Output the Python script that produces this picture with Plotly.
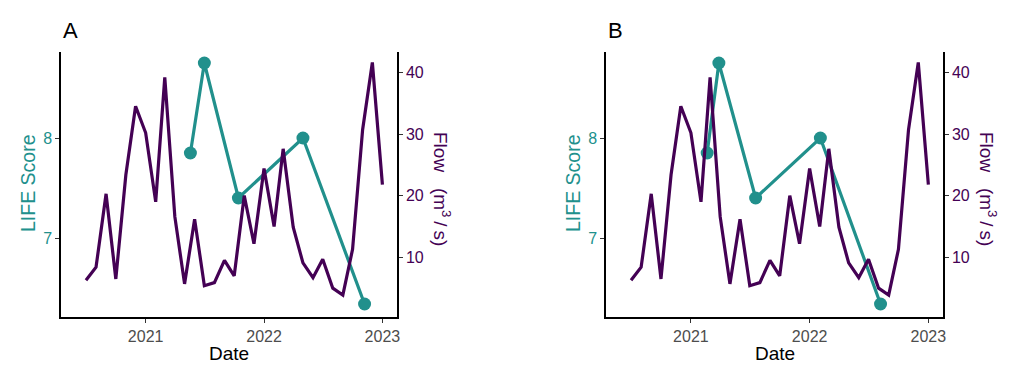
import plotly.graph_objects as go

# ---------------- data ----------------
flow_dates = [
    "2020-07-01", "2020-08-01", "2020-09-01", "2020-10-01", "2020-11-01", "2020-12-01",
    "2021-01-01", "2021-02-01", "2021-03-01", "2021-04-01", "2021-05-01", "2021-06-01",
    "2021-07-01", "2021-08-01", "2021-09-01", "2021-10-01", "2021-11-01", "2021-12-01",
    "2022-01-01", "2022-02-01", "2022-03-01", "2022-04-01", "2022-05-01", "2022-06-01",
    "2022-07-01", "2022-08-01", "2022-09-01", "2022-10-01", "2022-11-01", "2022-12-01",
    "2023-01-01",
]
flow_values = [
    6.3, 8.4, 20.3, 6.5, 23.4, 34.5,
    30.2, 19.0, 39.2, 16.6, 5.7, 16.2,
    5.4, 5.9, 9.5, 7.0, 20.0, 12.2,
    24.4, 15.0, 27.6, 14.9, 9.1, 6.7,
    9.7, 5.0, 3.9, 11.3, 30.7, 41.6,
    21.8,
]

life_dates_a = ["2021-05-19", "2021-07-01", "2021-10-14", "2022-05-01", "2022-11-07"]
life_dates_b = ["2021-02-20", "2021-03-28", "2021-07-19", "2022-02-03", "2022-08-07"]
life_values = [7.85, 8.75, 7.40, 8.00, 6.34]

panel_labels = ["A", "B"]
year_ticks = ["2021-01-01", "2022-01-01", "2023-01-01"]
year_labels = ["2021", "2022", "2023"]
life_ticks = [7, 8]
flow_ticks = [10, 20, 30, 40]

# ---------------- style ----------------
TEAL = "#21908C"
PURPLE = "#440154"
FONT = "Liberation Sans, Arial, sans-serif"
OFF = 8  # page body margin
W, H = 1024 - OFF, 384 - OFF

x_range = ["2020-04-15", "2023-02-15"]
life_range = [6.21, 8.86]
flow_range = [0.33, 43.3]

# plot areas in reference-page pixels
px_a = (61, 397)
px_b = (606, 943)
py = (52, 317)  # top, bottom


def fx(p):
    return (p - OFF) / W


def fy(p):
    return 1 - (p - OFF) / H


fig = go.Figure()

panels = [
    (life_dates_a, px_a, "x", "y", "y2", "xaxis", "yaxis", "yaxis2"),
    (life_dates_b, px_b, "x2", "y3", "y4", "xaxis2", "yaxis3", "yaxis4"),
]

for i, (ldates, pxr, xa, ya, ya2, xk, yk, yk2) in enumerate(panels):
    fig.add_trace(go.Scatter(
        x=ldates, y=life_values, mode="lines+markers",
        line=dict(color=TEAL, width=3.2),
        marker=dict(color=TEAL, size=13),
        xaxis=xa, yaxis=ya, showlegend=False,
    ))
    fig.add_trace(go.Scatter(
        x=flow_dates, y=flow_values, mode="lines",
        line=dict(color=PURPLE, width=3.2),
        xaxis=xa, yaxis=ya2, showlegend=False,
    ))

    fig.layout[xk] = dict(
        domain=[fx(pxr[0]), fx(pxr[1])], anchor=ya, range=x_range,
        type="date", tickvals=year_ticks, ticktext=year_labels,
        showgrid=False, zeroline=False, showline=True, linecolor="black",
        linewidth=1.5, ticks="outside", ticklen=4, tickcolor="#333333",
        tickwidth=1.2, tickfont=dict(family=FONT, size=16, color="#4D4D4D"),
    )
    fig.layout[yk] = dict(
        domain=[fy(py[1]), fy(py[0])], anchor=xa, range=life_range,
        tickvals=life_ticks, showgrid=False, zeroline=False, showline=True,
        linecolor="black", linewidth=1.5, ticks="outside", ticklen=4,
        tickcolor="#333333", tickwidth=1.2,
        tickfont=dict(family=FONT, size=16, color=TEAL),
    )
    fig.layout[yk2] = dict(
        overlaying=ya, anchor=xa, side="right", range=flow_range,
        tickvals=flow_ticks, showgrid=False, zeroline=False, showline=True,
        linecolor="black", linewidth=1.5, ticks="outside", ticklen=4,
        tickcolor="#333333", tickwidth=1.2,
        tickfont=dict(family=FONT, size=16, color=PURPLE),
    )

    cx = (pxr[0] + pxr[1]) / 2
    # panel label
    fig.add_annotation(x=fx(pxr[0]), y=fy(30), xref="paper", yref="paper",
                       text=panel_labels[i], showarrow=False, xanchor="left",
                       yanchor="middle", font=dict(family=FONT, size=22, color="black"))
    # x title
    fig.add_annotation(x=fx(cx), y=fy(353), xref="paper", yref="paper",
                       text="Date", showarrow=False, xanchor="center",
                       yanchor="middle", font=dict(family=FONT, size=19, color="black"))
    # left title
    fig.add_annotation(x=fx(pxr[0] - 33), y=fy(183), xref="paper", yref="paper",
                       text="LIFE Score", showarrow=False, textangle=-90,
                       xanchor="center", yanchor="middle",
                       font=dict(family=FONT, size=19.5, color=TEAL))
    # right title
    fig.add_annotation(x=fx(pxr[1] + 45), y=fy(189), xref="paper", yref="paper",
                       text="Flow\u00a0\u00a0\u00a0(m<sup>3</sup>\u2009/\u2009s)", showarrow=False,
                       textangle=90, xanchor="center", yanchor="middle",
                       font=dict(family=FONT, size=19, color=PURPLE))

fig.update_layout(
    width=W, height=H, template="none",
    margin=dict(l=0, r=0, t=0, b=0),
    paper_bgcolor="white", plot_bgcolor="white",
    showlegend=False,
)

fig.write_html("out.html")
